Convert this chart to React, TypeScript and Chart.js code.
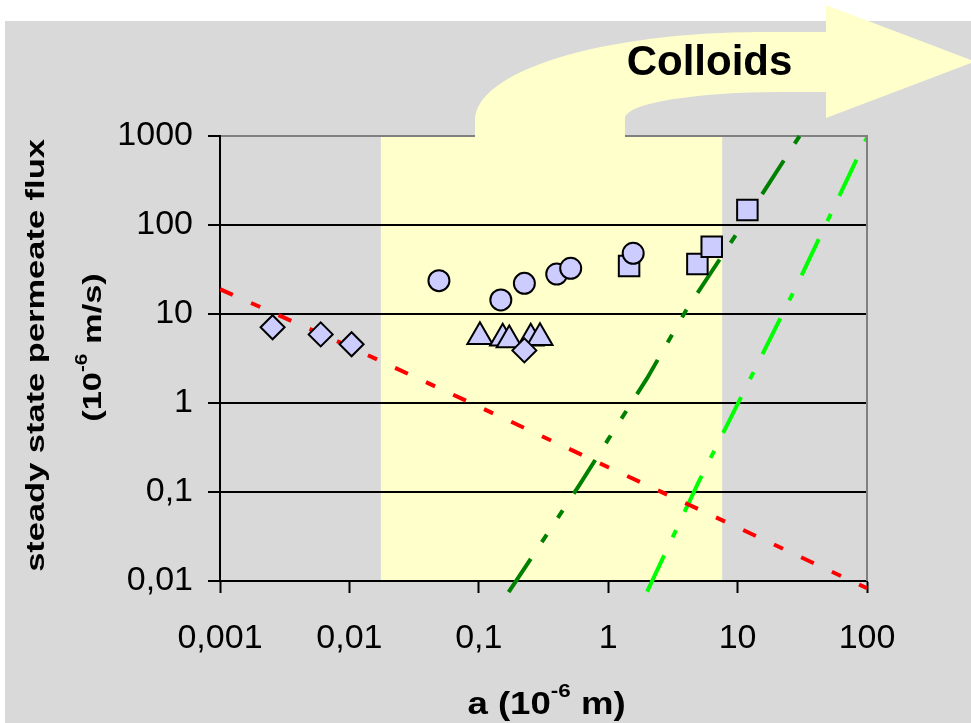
import React, { useEffect, useRef } from 'react';
import { Chart, registerables } from 'chart.js';

Chart.register(...registerables);

// ---- axis ticks ----
const xTickValues = [0.001, 0.01, 0.1, 1, 10, 100];
const xTickLabels = ['0,001', '0,01', '0,1', '1', '10', '100'];
const yTickValues = [0.01, 0.1, 1, 10, 100, 1000];
const yTickLabels = ['0,01', '0,1', '1', '10', '100', '1000'];

// ---- measured points ----
const diamondX = [0.00255, 0.006, 0.0104, 0.225];
const diamondY = [7.1, 5.9, 4.57, 3.9];
const circleX = [0.0492, 0.148, 0.225, 0.4, 0.513, 1.56];
const circleY = [23.7, 14.4, 22.1, 28.1, 32.6, 48.1];
const squareX = [1.45, 4.89, 6.31, 11.9];
const squareY = [34.6, 36.5, 57, 147];
const triangleX = [0.102, 0.153, 0.172, 0.252, 0.297];
const triangleY = [5.56, 5.33, 5.1, 5.33, 5.42];

// ---- model lines ----
const redX = [0.001, 0.01, 0.1, 1, 10, 100];
const redY = [19, 4.3, 0.91, 0.19, 0.04, 0.0083];
const darkGreenX = [0.17, 0.3, 0.6, 1, 2, 4, 10, 35];
const darkGreenY = [0.0075, 0.026, 0.12, 0.39, 1.9, 11, 83, 1400];
const lightGreenX = [2, 5, 10, 30, 100];
const lightGreenY = [0.0076, 0.13, 0.97, 24, 960];

// ---- colloid band (x range) ----
const bandX = [0.0175, 7.6];

const xAxisTitle = 'a (10';
const xAxisTitleSup = '-6';
const xAxisTitleEnd = ' m)';
const yAxisTitle1 = 'steady state permeate flux';
const yAxisTitle2a = '(10';
const yAxisTitle2Sup = '-6';
const yAxisTitle2b = ' m/s)';
const arrowLabel = 'Colloids';

const FONT = '"Liberation Sans", Arial, Helvetica, sans-serif';

const zip = (xs: number[], ys: number[]) => xs.map((x, i) => ({ x, y: ys[i] }));

const findLabel = (vals: number[], labels: string[], v: number) => {
  for (let i = 0; i < vals.length; i++) {
    if (Math.abs(Math.log10(vals[i]) - Math.log10(v)) < 1e-6) return labels[i];
  }
  return '';
};

const decorPlugin = {
  id: 'decor',
  beforeDraw(chart: any) {
    const { ctx, chartArea, scales } = chart;
    ctx.save();
    ctx.fillStyle = '#ffffff';
    ctx.fillRect(0, 0, chart.width, chart.height);
    ctx.fillStyle = '#d9d9d9';
    ctx.fillRect(5, 21, chart.width - 5, chart.height - 21);
    const x0 = scales.x.getPixelForValue(bandX[0]);
    const x1 = scales.x.getPixelForValue(bandX[1]);
    ctx.fillStyle = '#ffffcc';
    ctx.fillRect(x0, chartArea.top, x1 - x0, chartArea.bottom - chartArea.top);
    ctx.restore();
  },
  afterDraw(chart: any) {
    const { ctx, chartArea } = chart;
    ctx.save();
    // right plot border
    ctx.strokeStyle = '#808080';
    ctx.lineWidth = 2;
    ctx.beginPath();
    ctx.moveTo(chartArea.right, chartArea.top - 1);
    ctx.lineTo(chartArea.right, chartArea.bottom);
    ctx.stroke();

    // Colloids arrow
    ctx.fillStyle = '#ffffcc';
    ctx.beginPath();
    ctx.moveTo(475, 138);
    ctx.lineTo(475, 120);
    ctx.ellipse(760, 120, 285, 88, 0, Math.PI, Math.PI * 1.5, false);
    ctx.lineTo(826, 32);
    ctx.lineTo(826, 5);
    ctx.lineTo(975, 61.5);
    ctx.lineTo(826, 118);
    ctx.lineTo(826, 92);
    ctx.lineTo(780, 92);
    ctx.ellipse(780, 118, 155, 26, 0, Math.PI * 1.5, Math.PI, true);
    ctx.lineTo(625, 138);
    ctx.closePath();
    ctx.fill();

    ctx.fillStyle = '#000';
    ctx.font = `bold 42px ${FONT}`;
    ctx.textAlign = 'center';
    ctx.textBaseline = 'alphabetic';
    ctx.fillText(arrowLabel, 709.5, 75);

    // x axis title with superscript
    const xs = 1.18;
    const mainF = `bold 31px ${FONT}`;
    const supF = `bold 19px ${FONT}`;
    ctx.font = mainF;
    const w1 = ctx.measureText(xAxisTitle).width;
    const w3 = ctx.measureText(xAxisTitleEnd).width;
    ctx.font = supF;
    const w2 = ctx.measureText(xAxisTitleSup).width;
    const total = (w1 + w2 + w3) * xs;
    const cx = (chartArea.left + chartArea.right) / 2 + 3;
    ctx.save();
    ctx.translate(cx - total / 2, 714);
    ctx.scale(xs, 1);
    ctx.textAlign = 'left';
    ctx.font = mainF;
    ctx.fillText(xAxisTitle, 0, 0);
    ctx.font = supF;
    ctx.fillText(xAxisTitleSup, w1, -17);
    ctx.font = mainF;
    ctx.fillText(xAxisTitleEnd, w1 + w2, 0);
    ctx.restore();

    // y axis title (rotated)
    const ys = 1.3;
    const yF = `bold 26.5px ${FONT}`;
    const ySupF = `bold 16px ${FONT}`;
    const cy = (chartArea.top + chartArea.bottom) / 2;
    ctx.save();
    ctx.translate(44, cy - 3);
    ctx.rotate(-Math.PI / 2);
    ctx.scale(ys, 1);
    ctx.font = yF;
    ctx.textAlign = 'center';
    ctx.fillText(yAxisTitle1, 0, 0);
    ctx.restore();

    ctx.font = yF;
    const a1 = ctx.measureText(yAxisTitle2a).width;
    const a3 = ctx.measureText(yAxisTitle2b).width;
    ctx.font = ySupF;
    const a2 = ctx.measureText(yAxisTitle2Sup).width;
    const tot2 = (a1 + a2 + a3) * ys;
    ctx.save();
    ctx.translate(101, cy - 11 + tot2 / 2);
    ctx.rotate(-Math.PI / 2);
    ctx.scale(ys, 1);
    ctx.textAlign = 'left';
    ctx.font = yF;
    ctx.fillText(yAxisTitle2a, 0, 0);
    ctx.font = ySupF;
    ctx.fillText(yAxisTitle2Sup, a1, -14);
    ctx.font = yF;
    ctx.fillText(yAxisTitle2b, a1 + a2, 0);
    ctx.restore();

    ctx.restore();
  },
};

const markerBase = {
  backgroundColor: '#ccccff',
  borderColor: '#000000',
  borderWidth: 2,
  pointBackgroundColor: '#ccccff',
  pointBorderColor: '#000000',
  pointBorderWidth: 2,
  showLine: false,
  clip: false as any,
};

const lineBase = {
  showLine: true,
  pointRadius: 0,
  borderWidth: 4,
  fill: false,
  tension: 0,
  clip: { left: 0, top: 16, right: 0, bottom: 12 },
};

export default function App() {
  const canvasRef = useRef<HTMLCanvasElement | null>(null);

  useEffect(() => {
    if (!canvasRef.current) return;
    const chart = new Chart(canvasRef.current, {
      type: 'scatter',
      data: {
        datasets: [
          { ...markerBase, label: 'diamonds', data: zip(diamondX, diamondY), pointStyle: 'rectRot', pointRadius: 12, order: 1 },
          { ...markerBase, label: 'triangles', data: zip(triangleX, triangleY), pointStyle: 'triangle', pointRadius: 14.5, order: 2 },
          { ...markerBase, label: 'circles', data: zip(circleX, circleY), pointStyle: 'circle', pointRadius: 10.5, order: 3 },
          { ...markerBase, label: 'squares', data: zip(squareX, squareY), pointStyle: 'rect', pointRadius: 14.5, order: 4 },
          { ...lineBase, label: 'red', data: zip(redX, redY), borderColor: '#ff0000', borderDash: [14, 20, 10, 20], order: 10 },
          { ...lineBase, label: 'darkgreen', data: zip(darkGreenX, darkGreenY), borderColor: '#008000', borderDash: [40, 20, 9, 20, 9, 20], order: 11 },
          { ...lineBase, label: 'lightgreen', data: zip(lightGreenX, lightGreenY), borderColor: '#00ff00', borderDash: [40, 20, 8, 20], order: 12 },
        ] as any,
      },
      options: {
        responsive: false,
        animation: false,
        events: [],
        layout: { padding: { left: 0, top: 136, right: 104, bottom: 0 } },
        plugins: {
          legend: { display: false },
          tooltip: { enabled: false },
          title: { display: false },
        },
        scales: {
          x: {
            type: 'logarithmic',
            min: 0.001,
            max: 100,
            afterBuildTicks: (s: any) => {
              s.ticks = xTickValues.map((v) => ({ value: v }));
            },
            afterFit: (s: any) => {
              s.height = 142;
            },
            ticks: {
              callback: (v: any) => findLabel(xTickValues, xTickLabels, Number(v)),
              font: { family: FONT, size: 34 },
              color: '#000',
              padding: 25,
              maxRotation: 0,
              minRotation: 0,
              autoSkip: false,
            },
            grid: {
              drawOnChartArea: false,
              drawTicks: true,
              tickLength: 12,
              tickColor: '#000',
              tickWidth: 2,
            },
            border: { display: true, color: '#000', width: 2 },
          },
          y: {
            type: 'logarithmic',
            min: 0.01,
            max: 1000,
            afterBuildTicks: (s: any) => {
              s.ticks = yTickValues.map((v) => ({ value: v }));
            },
            afterFit: (s: any) => {
              s.width = 220;
            },
            ticks: {
              callback: (v: any) => findLabel(yTickValues, yTickLabels, Number(v)),
              font: { family: FONT, size: 34 },
              color: '#000',
              padding: 15,
              autoSkip: false,
            },
            grid: {
              drawOnChartArea: true,
              drawTicks: true,
              tickLength: 12,
              color: (c: any) => (c.tick && Math.abs(c.tick.value - 1000) < 1e-6 ? '#808080' : '#000000'),
              lineWidth: 2,
              tickColor: '#000',
              tickWidth: 2,
            },
            border: { display: true, color: '#000', width: 2 },
          },
        },
      } as any,
      plugins: [decorPlugin],
    });
    return () => chart.destroy();
  }, []);

  return (
    <div style={{ position: 'fixed', left: 0, top: 0, width: 971, height: 723, background: '#fff' }}>
      <canvas ref={canvasRef} width={971} height={723} style={{ display: 'block', width: 971, height: 723 }} />
    </div>
  );
}
